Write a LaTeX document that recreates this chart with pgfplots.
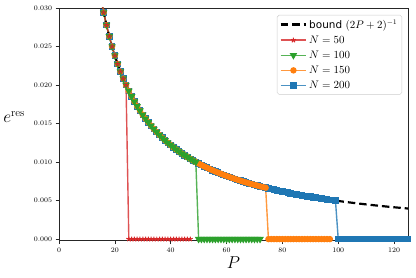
\documentclass[border=0pt]{standalone}
\usepackage{fontspec}
\newfontfamily\dejavu{DejaVu Sans}
\usepackage{pgfplots}
\usepackage{pgfplotstable}
\pgfplotsset{compat=1.18}
\definecolor{tred}{HTML}{D62728}
\definecolor{tgreen}{HTML}{2CA02C}
\definecolor{torange}{HTML}{FF7F0E}
\definecolor{tblue}{HTML}{1F77B4}
\pgfplotstableread{
P bound n50 n100 n150 n200
15 0.031250 0.031250 0.031250 0.031250 0.031250
16 0.029412 0.029412 0.029412 0.029412 0.029412
17 0.027778 0.027778 0.027778 0.027778 0.027778
18 0.026316 0.026316 0.026316 0.026316 0.026316
19 0.025000 0.025000 0.025000 0.025000 0.025000
20 0.023810 0.023810 0.023810 0.023810 0.023810
21 0.022727 0.022727 0.022727 0.022727 0.022727
22 0.021739 0.021739 0.021739 0.021739 0.021739
23 0.020833 0.020833 0.020833 0.020833 0.020833
24 0.020000 0.020000 0.020000 0.020000 0.020000
25 0.019231 0 0.019231 0.019231 0.019231
26 0.018519 0 0.018519 0.018519 0.018519
27 0.017857 0 0.017857 0.017857 0.017857
28 0.017241 0 0.017241 0.017241 0.017241
29 0.016667 0 0.016667 0.016667 0.016667
30 0.016129 0 0.016129 0.016129 0.016129
31 0.015625 0 0.015625 0.015625 0.015625
32 0.015152 0 0.015152 0.015152 0.015152
33 0.014706 0 0.014706 0.014706 0.014706
34 0.014286 0 0.014286 0.014286 0.014286
35 0.013889 0 0.013889 0.013889 0.013889
36 0.013514 0 0.013514 0.013514 0.013514
37 0.013158 0 0.013158 0.013158 0.013158
38 0.012821 0 0.012821 0.012821 0.012821
39 0.012500 0 0.012500 0.012500 0.012500
40 0.012195 0 0.012195 0.012195 0.012195
41 0.011905 0 0.011905 0.011905 0.011905
42 0.011628 0 0.011628 0.011628 0.011628
43 0.011364 0 0.011364 0.011364 0.011364
44 0.011111 0 0.011111 0.011111 0.011111
45 0.010870 0 0.010870 0.010870 0.010870
46 0.010638 0 0.010638 0.010638 0.010638
47 0.010417 0 0.010417 0.010417 0.010417
48 0.010204 nan 0.010204 0.010204 0.010204
49 0.010000 nan 0.010000 0.010000 0.010000
50 0.009804 nan 0 0.009804 0.009804
51 0.009615 nan 0 0.009615 0.009615
52 0.009434 nan 0 0.009434 0.009434
53 0.009259 nan 0 0.009259 0.009259
54 0.009091 nan 0 0.009091 0.009091
55 0.008929 nan 0 0.008929 0.008929
56 0.008772 nan 0 0.008772 0.008772
57 0.008621 nan 0 0.008621 0.008621
58 0.008475 nan 0 0.008475 0.008475
59 0.008333 nan 0 0.008333 0.008333
60 0.008197 nan 0 0.008197 0.008197
61 0.008065 nan 0 0.008065 0.008065
62 0.007937 nan 0 0.007937 0.007937
63 0.007813 nan 0 0.007813 0.007813
64 0.007692 nan 0 0.007692 0.007692
65 0.007576 nan 0 0.007576 0.007576
66 0.007463 nan 0 0.007463 0.007463
67 0.007353 nan 0 0.007353 0.007353
68 0.007246 nan 0 0.007246 0.007246
69 0.007143 nan 0 0.007143 0.007143
70 0.007042 nan 0 0.007042 0.007042
71 0.006944 nan 0 0.006944 0.006944
72 0.006849 nan 0 0.006849 0.006849
73 0.006757 nan nan 0.006757 0.006757
74 0.006667 nan nan 0.006667 0.006667
75 0.006579 nan nan 0 0.006579
76 0.006494 nan nan 0 0.006494
77 0.006410 nan nan 0 0.006410
78 0.006329 nan nan 0 0.006329
79 0.006250 nan nan 0 0.006250
80 0.006173 nan nan 0 0.006173
81 0.006098 nan nan 0 0.006098
82 0.006024 nan nan 0 0.006024
83 0.005952 nan nan 0 0.005952
84 0.005882 nan nan 0 0.005882
85 0.005814 nan nan 0 0.005814
86 0.005747 nan nan 0 0.005747
87 0.005682 nan nan 0 0.005682
88 0.005618 nan nan 0 0.005618
89 0.005556 nan nan 0 0.005556
90 0.005495 nan nan 0 0.005495
91 0.005435 nan nan 0 0.005435
92 0.005376 nan nan 0 0.005376
93 0.005319 nan nan 0 0.005319
94 0.005263 nan nan 0 0.005263
95 0.005208 nan nan 0 0.005208
96 0.005155 nan nan 0 0.005155
97 0.005102 nan nan 0 0.005102
98 0.005051 nan nan nan 0.005051
99 0.005000 nan nan nan 0.005000
100 0.004950 nan nan nan 0
101 0.004902 nan nan nan 0
102 0.004854 nan nan nan 0
103 0.004808 nan nan nan 0
104 0.004762 nan nan nan 0
105 0.004717 nan nan nan 0
106 0.004673 nan nan nan 0
107 0.004630 nan nan nan 0
108 0.004587 nan nan nan 0
109 0.004545 nan nan nan 0
110 0.004505 nan nan nan 0
111 0.004464 nan nan nan 0
112 0.004425 nan nan nan 0
113 0.004386 nan nan nan 0
114 0.004348 nan nan nan 0
115 0.004310 nan nan nan 0
116 0.004274 nan nan nan 0
117 0.004237 nan nan nan 0
118 0.004202 nan nan nan 0
119 0.004167 nan nan nan 0
120 0.004132 nan nan nan 0
121 0.004098 nan nan nan 0
122 0.004065 nan nan nan 0
123 0.004032 nan nan nan 0
124 0.004000 nan nan nan 0
125 0.003968 nan nan nan 0
}\datatab
\begin{document}
\begin{tikzpicture}
\begin{axis}[
  scale only axis,
  width=351pt, height=234pt,
  xmin=0, xmax=125,
  ymin=-0.0002, ymax=0.030,
  xtick={0,20,40,60,80,100,120},
  ytick={0,0.005,0.010,0.015,0.020,0.025,0.030},
  scaled y ticks=false,
  yticklabel style={/pgf/number format/.cd, fixed, fixed zerofill, precision=3},
  tick label style={font=\scriptsize},
  tick align=outside,
  xtick pos=left, ytick pos=left,
  major tick length=3.5pt,
  axis line style={black!85, line width=0.8pt},
  every tick/.style={black!85, line width=0.6pt},
  xlabel={$P$},
  ylabel={$e^{\mathrm{res}}$},
  xlabel style={font=\fontsize{16}{18}\selectfont, yshift=2pt},
  every axis y label/.style={at={(ticklabel cs:0.53)}, anchor=east, font=\fontsize{16}{18}\selectfont, xshift=-2pt},
  reverse legend,
  legend cell align=left,
  legend style={at={(0.983,0.97)}, anchor=north east, draw=black!20, rounded corners=2pt,
    font=\fontsize{10.5}{12.5}\selectfont, row sep=2.2pt, inner sep=2.5pt},
  legend image code/.code={\draw[mark repeat=2,mark phase=2] plot coordinates {(0cm,0cm) (0.45cm,0cm) (0.9cm,0cm)};},
]
\addplot[tblue, line width=1.4pt, draw opacity=0.8, mark=square*, mark size=2.6pt,
  mark options={solid, draw opacity=1, fill=tblue}] table[x=P, y=n200] {\datatab};
\addlegendentry{$N = 200$}
\addplot[torange, line width=1.4pt, draw opacity=0.8, mark=*, mark size=2.5pt,
  mark options={solid, draw opacity=1, fill=torange}] table[x=P, y=n150] {\datatab};
\addlegendentry{$N = 150$}
\addplot[tgreen, line width=1.4pt, draw opacity=0.8, mark=triangle*, mark size=3pt,
  mark options={solid, draw opacity=1, fill=tgreen, rotate=180}] table[x=P, y=n100] {\datatab};
\addlegendentry{$N = 100$}
\addplot[tred, line width=1.4pt, draw opacity=0.8, mark=star, mark size=2.6pt,
  mark options={solid, draw opacity=1, line width=1pt}] table[x=P, y=n50] {\datatab};
\addlegendentry{$N = 50$}
\addplot[black, line width=2.2pt, dash pattern=on 7.5pt off 4pt] table[x=P, y=bound] {\datatab};
\addlegendentry{{\dejavu bound} $(2P+2)^{-1}$}
\end{axis}
\path (current axis.south west) ++(-57pt,-37pt) rectangle ++(416pt,279pt);
\end{tikzpicture}
\end{document}
